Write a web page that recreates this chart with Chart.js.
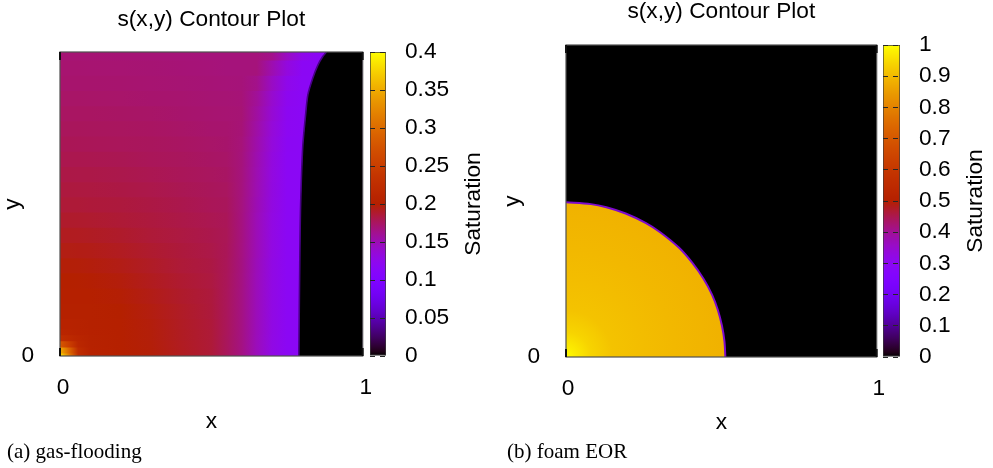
<!DOCTYPE html>
<html>
<head>
<meta charset="utf-8">
<title>s(x,y) Contour Plot</title>
<script src="https://cdn.jsdelivr.net/npm/chart.js@4.4.1/dist/chart.umd.min.js"></script>
<style>
  html, body { margin: 0; padding: 0; background: #ffffff; }
  body { position: relative; width: 993px; height: 468px; overflow: hidden; }
  canvas { position: absolute; top: 0; }
  .caption { position: absolute; top: 441px; font-family: "Liberation Serif", "Times New Roman", serif;
             font-size: 21px; line-height: 1; color: #000; white-space: nowrap; }
</style>
</head>
<body>
<canvas id="gasMap" width="381" height="440" style="left:0px"></canvas>
<canvas id="gasBar" width="134" height="440" style="left:366px"></canvas>
<canvas id="foamMap" width="395" height="440" style="left:500px"></canvas>
<canvas id="foamBar" width="114" height="440" style="left:879px"></canvas>
<div class="caption" style="left:7px">(a) gas-flooding</div>
<div class="caption" style="left:507px">(b) foam EOR</div>
<script>
// ---------------- texts / ticks ----------------
const PLOT_TITLE = 's(x,y) Contour Plot';
const X_TITLE = 'x';
const Y_TITLE = 'y';
const BAR_TITLE = 'Saturation';
const DOMAIN_MIN = 0;
const DOMAIN_MAX = 1;
const xTickValues = [0, 1];
const xTickLabels = ['0', '1'];
const yTickValues = [0];
const yTickLabels = ['0'];
const innerTickValues = [0, 1];

// ---------------- (a) gas-flooding ----------------
// x positions of the sampled saturation profile
const gasColX = [0, 0.03, 0.06, 0.1, 0.2, 0.3, 0.4, 0.5, 0.55, 0.6, 0.65, 0.7, 0.75, 0.8, 0.85, 0.9];
// y positions of the sampled rows
const gasRowY = [0, 0.02, 0.04, 0.06, 0.08, 0.1, 0.15, 0.2, 0.25, 0.3, 0.35, 0.4, 0.45, 0.5,
                 0.55, 0.6, 0.65, 0.7, 0.75, 0.8, 0.85, 0.9, 0.95, 1.0];
// saturation read at (gasRowY[i], gasColX[j])
const gasSat = [
  [0.380, 0.310, 0.225, 0.205, 0.2010, 0.1980, 0.1920, 0.1860, 0.1767, 0.1658, 0.1477, 0.1296, 0.1184, 0.118, 0.118, 0.118],
  [0.350, 0.295, 0.222, 0.205, 0.2010, 0.1980, 0.1920, 0.1860, 0.1767, 0.1658, 0.1477, 0.1296, 0.1184, 0.118, 0.118, 0.118],
  [0.280, 0.250, 0.213, 0.204, 0.2010, 0.1978, 0.1918, 0.1859, 0.1767, 0.1658, 0.1477, 0.1296, 0.1184, 0.118, 0.118, 0.118],
  [0.225, 0.218, 0.210, 0.204, 0.2008, 0.1976, 0.1916, 0.1858, 0.1767, 0.1658, 0.1477, 0.1296, 0.1184, 0.118, 0.118, 0.118],
  [0.210, 0.209, 0.205, 0.203, 0.2007, 0.1974, 0.1915, 0.1858, 0.1770, 0.1660, 0.1480, 0.1300, 0.1185, 0.118, 0.118, 0.118],
  [0.205, 0.205, 0.204, 0.202, 0.2005, 0.1970, 0.1910, 0.1854, 0.1770, 0.1660, 0.1480, 0.1300, 0.1185, 0.118, 0.118, 0.118],
  [0.202, 0.202, 0.202, 0.2015, 0.2000, 0.1960, 0.1905, 0.1850, 0.1770, 0.1660, 0.1480, 0.1300, 0.1185, 0.118, 0.118, 0.118],
  [0.201, 0.201, 0.201, 0.2005, 0.1987, 0.1945, 0.1892, 0.1845, 0.1770, 0.1660, 0.1480, 0.1300, 0.1185, 0.118, 0.118, 0.118],
  [0.200, 0.200, 0.1998, 0.1992, 0.1970, 0.1926, 0.1877, 0.1836, 0.1773, 0.1662, 0.1481, 0.1299, 0.1185, 0.118, 0.118, 0.118],
  [0.198, 0.198, 0.1977, 0.1970, 0.1945, 0.1906, 0.1860, 0.1827, 0.1776, 0.1664, 0.1485, 0.1302, 0.1186, 0.118, 0.118, 0.118],
  [0.195, 0.195, 0.1947, 0.1942, 0.1918, 0.1883, 0.1849, 0.1816, 0.1779, 0.1666, 0.1489, 0.1304, 0.1187, 0.118, 0.118, 0.118],
  [0.192, 0.192, 0.1918, 0.1913, 0.1892, 0.1860, 0.1834, 0.1804, 0.1782, 0.1668, 0.1492, 0.1306, 0.1188, 0.118, 0.118, 0.118],
  [0.189, 0.189, 0.1888, 0.1883, 0.1865, 0.1844, 0.1819, 0.1791, 0.1776, 0.1668, 0.1492, 0.1306, 0.1188, 0.118, 0.118, 0.118],
  [0.186, 0.186, 0.1858, 0.1854, 0.1845, 0.1827, 0.1804, 0.1777, 0.1767, 0.1670, 0.1500, 0.1315, 0.1188, 0.118, 0.118, 0.118],
  [0.184, 0.184, 0.1839, 0.1836, 0.1826, 0.1810, 0.1788, 0.1767, 0.1757, 0.1674, 0.1508, 0.1320, 0.1190, 0.118, 0.118, 0.118],
  [0.182, 0.182, 0.1819, 0.1817, 0.1807, 0.1792, 0.1772, 0.1756, 0.1745, 0.1676, 0.1512, 0.1323, 0.1190, 0.118, 0.118, 0.118],
  [0.180, 0.180, 0.1799, 0.1797, 0.1788, 0.1774, 0.1761, 0.1744, 0.1735, 0.1680, 0.1520, 0.1330, 0.1190, 0.118, 0.118, 0.118],
  [0.178, 0.178, 0.1779, 0.1777, 0.1769, 0.1761, 0.1748, 0.1732, 0.1723, 0.1686, 0.1532, 0.1342, 0.1196, 0.118, 0.118, 0.118],
  [0.1765, 0.1765, 0.1764, 0.1763, 0.1757, 0.1748, 0.1735, 0.1720, 0.1715, 0.1694, 0.1548, 0.1358, 0.1204, 0.118, 0.118, 0.118],
  [0.175, 0.175, 0.1750, 0.1748, 0.1743, 0.1734, 0.1722, 0.1711, 0.1706, 0.1700, 0.1568, 0.1378, 0.1214, 0.118, 0.118, 0.118],
  [0.1735, 0.1735, 0.1734, 0.1733, 0.1728, 0.1720, 0.1712, 0.1703, 0.1698, 0.1692, 0.1593, 0.1402, 0.1226, 0.118, 0.118, 0.118],
  [0.172, 0.172, 0.1720, 0.1719, 0.1716, 0.1709, 0.1703, 0.1694, 0.1689, 0.1684, 0.1635, 0.1445, 0.1260, 0.118, 0.118, 0.118],
  [0.171, 0.171, 0.1710, 0.1709, 0.1706, 0.1701, 0.1694, 0.1686, 0.1680, 0.1680, 0.1680, 0.1520, 0.1330, 0.119, 0.118, 0.118],
  [0.170, 0.170, 0.1700, 0.1699, 0.1696, 0.1691, 0.1685, 0.1680, 0.1680, 0.1680, 0.1680, 0.1635, 0.1445, 0.126, 0.118, 0.118]
];
// gas front (s = 0 to the right of it)
const gasFrontY = [0, 0.3, 0.5, 0.69, 0.8, 0.86, 0.914, 0.957, 0.985, 1.0];
const gasFrontX = [0.789, 0.792, 0.795, 0.802, 0.812, 0.819, 0.835, 0.852, 0.868, 0.88];
const gasBarMax = 0.4;
const gasBarTicks = [0, 0.05, 0.1, 0.15, 0.2, 0.25, 0.3, 0.35, 0.4];
const gasBarLabels = ['0', '0.05', '0.1', '0.15', '0.2', '0.25', '0.3', '0.35', '0.4'];

// ---------------- (b) foam EOR ----------------
const foamFrontY = [0, 0.05, 0.1, 0.15, 0.2, 0.25, 0.3, 0.35, 0.4, 0.43, 0.46, 0.48, 0.49, 0.496];
const foamFrontX = [0.513, 0.510, 0.502, 0.489, 0.470, 0.443, 0.408, 0.364, 0.303, 0.256, 0.192, 0.130, 0.080, 0];
// saturation inside the foam bank versus distance from the injection corner
const foamRadius = [0, 0.03, 0.08, 0.15, 0.25, 0.35, 0.45, 0.52];
const foamSat = [1.0, 0.975, 0.94, 0.915, 0.905, 0.897, 0.89, 0.885];
const foamBarMax = 1;
const foamBarTicks = [0, 0.1, 0.2, 0.3, 0.4, 0.5, 0.6, 0.7, 0.8, 0.9, 1];
const foamBarLabels = ['0', '0.1', '0.2', '0.3', '0.4', '0.5', '0.6', '0.7', '0.8', '0.9', '1'];

// ---------------- styling helpers ----------------
const FONT_SIZE = 22.7;
Chart.defaults.font.family = '"Liberation Sans", Arial, Helvetica, sans-serif';
Chart.defaults.font.size = FONT_SIZE;
Chart.defaults.color = '#000';
Chart.defaults.animation = false;

// gnuplot default pm3d palette (rgbformulae 7,5,15)
function palette(t) {
  t = Math.min(1, Math.max(0, t));
  const r = Math.sqrt(t), g = t * t * t, b = Math.max(0, Math.sin(2 * Math.PI * t));
  return 'rgb(' + Math.round(r * 255) + ',' + Math.round(g * 255) + ',' + Math.round(b * 255) + ')';
}

function rowGradient(chart, row) {
  const { ctx, chartArea, scales } = chart;
  if (!chartArea) return palette(gasSat[row][0] / gasBarMax);
  const first = gasColX[0], last = gasColX[gasColX.length - 1];
  const x0 = scales.x.getPixelForValue(first), x1 = scales.x.getPixelForValue(last);
  const g = ctx.createLinearGradient(x0, 0, x1, 0);
  gasColX.forEach((xv, j) => g.addColorStop((xv - first) / (last - first), palette(gasSat[row][j] / gasBarMax)));
  return g;
}

function foamGradient(chart) {
  const { ctx, chartArea, scales } = chart;
  if (!chartArea) return palette(foamSat[0] / foamBarMax);
  const cx = scales.x.getPixelForValue(0), cy = scales.y.getPixelForValue(0);
  const rMax = foamRadius[foamRadius.length - 1];
  const R = scales.x.getPixelForValue(rMax) - cx;
  const g = ctx.createRadialGradient(cx, cy, 0, cx, cy, R);
  foamRadius.forEach((r, i) => g.addColorStop(r / rMax, palette(foamSat[i] / foamBarMax)));
  return g;
}

function barGradient(chart, max) {
  const { ctx, chartArea, scales } = chart;
  if (!chartArea) return palette(0.5);
  const y0 = scales.y.getPixelForValue(0), y1 = scales.y.getPixelForValue(max);
  const g = ctx.createLinearGradient(0, y0, 0, y1);
  const n = 64;
  for (let i = 0; i <= n; i++) g.addColorStop(i / n, palette(i / n));
  return g;
}

const framePlugin = {
  id: 'frame',
  afterDatasetsDraw(chart) {
    const { ctx, chartArea: a, scales: { x } } = chart;
    ctx.save();
    ctx.strokeStyle = '#505050';
    ctx.lineWidth = 1.2;
    ctx.strokeRect(a.left, a.top, a.right - a.left, a.bottom - a.top);
    ctx.strokeStyle = '#111';
    ctx.lineWidth = 2;
    ctx.beginPath();
    innerTickValues.forEach(v => {
      const px = x.getPixelForValue(v);
      ctx.moveTo(px, a.bottom); ctx.lineTo(px, a.bottom - 8);
      ctx.moveTo(px, a.top); ctx.lineTo(px, a.top + 8);
    });
    ctx.stroke();
    ctx.restore();
  }
};

const cbTitlePlugin = {
  id: 'cbTitle',
  afterDraw(chart, args, opts) {
    const { ctx, chartArea: a } = chart;
    ctx.save();
    ctx.translate(a.right + opts.offset, (a.top + a.bottom) / 2);
    ctx.rotate(-Math.PI / 2);
    ctx.textAlign = 'center';
    ctx.textBaseline = 'middle';
    ctx.fillStyle = '#000';
    ctx.font = FONT_SIZE + 'px "Liberation Sans", Arial, sans-serif';
    ctx.fillText(BAR_TITLE, 0, 0);
    ctx.restore();
  }
};

function mapScales(yAxisWidth, xAxisHeight, labelOffset, yTitlePad, xTitlePad) {
  return {
    x: {
      type: 'linear', min: DOMAIN_MIN, max: DOMAIN_MAX, offset: false,
      grid: { display: false }, border: { display: false },
      afterBuildTicks: s => { s.ticks = xTickValues.map(v => ({ value: v })); },
      afterFit: s => { s.height = xAxisHeight; },
      ticks: { padding: 12, labelOffset: labelOffset, maxRotation: 0, autoSkip: false,
               font: { size: FONT_SIZE, lineHeight: 1 }, callback: (v, i) => xTickLabels[i] },
      title: { display: true, text: X_TITLE, font: { size: FONT_SIZE, lineHeight: 1 }, padding: { top: 0, bottom: xTitlePad } }
    },
    y: {
      type: 'linear', min: DOMAIN_MIN, max: DOMAIN_MAX, offset: false,
      grid: { display: false }, border: { display: false },
      afterBuildTicks: s => { s.ticks = yTickValues.map(v => ({ value: v })); },
      afterFit: s => { s.width = yAxisWidth; },
      ticks: { padding: 18, autoSkip: false, font: { size: FONT_SIZE, lineHeight: 1 }, callback: (v, i) => yTickLabels[i] },
      title: { display: true, text: Y_TITLE, font: { size: FONT_SIZE, lineHeight: 0.8 }, padding: { top: yTitlePad, bottom: 0 } }
    }
  };
}

function makeMap(id, datasets, titlePad, scales) {
  return new Chart(document.getElementById(id), {
    type: 'line',
    data: { datasets: datasets },
    options: {
      responsive: false, animation: false, events: [],
      layout: { padding: { left: 0, right: 0, top: 0, bottom: 0 } },
      plugins: {
        legend: { display: false }, tooltip: { enabled: false },
        title: { display: true, text: PLOT_TITLE, fullSize: false, color: '#000',
                 font: { size: FONT_SIZE, weight: 'normal', lineHeight: 1 }, padding: titlePad }
      },
      scales: scales
    },
    plugins: [framePlugin]
  });
}

function makeColorbar(id, max, ticks, labels, padTop, padBottom, barW, canvasW, titleOffset) {
  return new Chart(document.getElementById(id), {
    type: 'bar',
    data: {
      labels: [BAR_TITLE],
      datasets: [{
        data: [[0, max]],
        backgroundColor: c => barGradient(c.chart, max),
        borderColor: '#3a3a3a', borderWidth: 1, borderSkipped: false,
        barPercentage: 1, categoryPercentage: 1
      }]
    },
    options: {
      responsive: false, animation: false, events: [],
      layout: { padding: { left: 4, right: 0, top: padTop, bottom: padBottom } },
      plugins: { legend: { display: false }, tooltip: { enabled: false }, cbTitle: { offset: titleOffset } },
      scales: {
        x: { display: false },
        y: {
          position: 'right', min: 0, max: max,
          afterBuildTicks: s => { s.ticks = ticks.map(v => ({ value: v })); },
          afterFit: s => { s.width = canvasW - 4 - barW; },
          ticks: { padding: 19, autoSkip: false, font: { size: FONT_SIZE, lineHeight: 1 }, callback: (v, i) => labels[i] },
          grid: { display: true, drawTicks: false, color: '#262626', lineWidth: 1, z: 1 },
          border: { display: false, dash: [5, 5] }
        }
      }
    },
    plugins: [cbTitlePlugin]
  });
}

// ---------------- (a) gas-flooding chart ----------------
const gasFrontPts = gasFrontY.map((y, i) => ({ x: gasFrontX[i], y: y }));
makeMap('gasMap', [
  { type: 'line', label: 'front', data: gasFrontPts, borderColor: 'rgb(72,0,135)', borderWidth: 1.6,
    fill: false, pointRadius: 0, tension: 0.3, order: 0 },
  { type: 'line', label: 'unswept (s = 0)',
    data: gasFrontPts.concat([{ x: DOMAIN_MAX, y: DOMAIN_MAX }, { x: DOMAIN_MAX, y: DOMAIN_MIN }]),
    fill: 'shape', backgroundColor: palette(0), borderWidth: 0, pointRadius: 0, tension: 0, order: 1 },
  { type: 'bar', indexAxis: 'y', label: 'saturation',
    data: gasRowY.map(y => ({ y: y, x: [DOMAIN_MIN, DOMAIN_MAX] })),
    barThickness: 'flex', barPercentage: 1.08, categoryPercentage: 1,
    backgroundColor: c => (c.dataIndex === undefined ? palette(0.45) : rowGradient(c.chart, c.dataIndex)),
    borderWidth: 0, order: 5 }
], { top: 8.2, bottom: 21.1 }, mapScales(60, 84, 3, 3.7, 6.7));

makeColorbar('gasBar', gasBarMax, gasBarTicks, gasBarLabels, 52, 84, 16, 134, 88);

// ---------------- (b) foam EOR chart ----------------
const foamFrontPts = foamFrontY.map((y, i) => ({ x: foamFrontX[i], y: y }));
makeMap('foamMap', [
  { type: 'line', label: 'foam front', data: foamFrontPts, borderColor: 'rgb(125,10,205)', borderWidth: 2,
    fill: false, pointRadius: 0, tension: 0.3, order: 0 },
  { type: 'line', label: 'foam bank',
    data: [{ x: DOMAIN_MIN, y: DOMAIN_MIN }].concat(foamFrontPts),
    fill: 'shape', backgroundColor: c => foamGradient(c.chart), borderWidth: 0, pointRadius: 0, tension: 0, order: 1 },
  { type: 'line', label: 'unswept (s = 0)',
    data: foamFrontPts.concat([{ x: DOMAIN_MIN, y: DOMAIN_MAX }, { x: DOMAIN_MAX, y: DOMAIN_MAX }, { x: DOMAIN_MAX, y: DOMAIN_MIN }]),
    fill: 'shape', backgroundColor: palette(0), borderWidth: 0, pointRadius: 0, tension: 0, order: 2 }
], { top: 0.4, bottom: 21.9 }, mapScales(66, 83, 2, 3.7, 6));

makeColorbar('foamBar', foamBarMax, foamBarTicks, foamBarLabels, 45, 83, 17, 114, 75.5);
</script>
</body>
</html>
